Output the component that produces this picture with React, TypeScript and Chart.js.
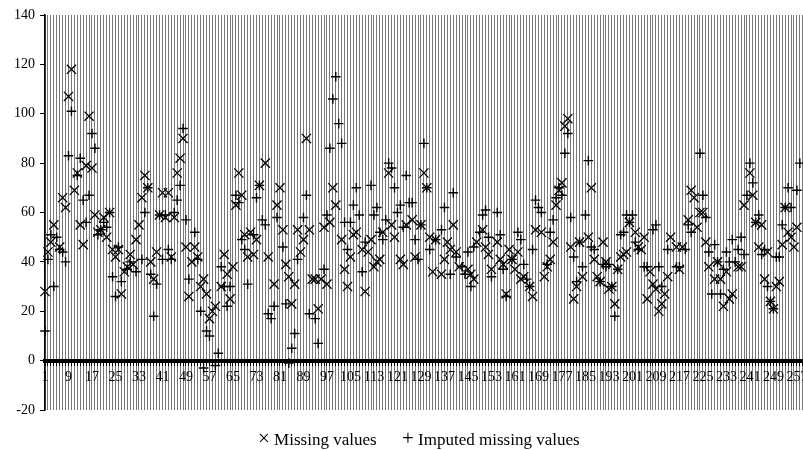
import React, { useEffect, useRef } from 'react';
import { Chart, registerables } from 'chart.js';

Chart.register(...registerables);

// Observation numbers along the x axis (the plot runs past the visible edge).
const CATEGORY_COUNT = 268;
const categories: string[] = Array.from({ length: CATEGORY_COUNT }, (_, i) => String(i + 1));

// Every 8th observation gets a printed label.
const LABEL_EVERY = 8;

const Y_MIN = -20;
const Y_MAX = 140;
const Y_STEP = 20;

// Values that were removed from the series (× markers), one slot per observation.
const missingValues: (number | null)[] = [
  28, 44, 48, 55, null, 46, 66, 62, 107, 118,
  69, 76, 55, 47, 79, 99, 78, 59, 52, 53,
  58, 50, 60, 45, 42, 45, 27, 36, 38, 43,
  39, 49, 55, 66, 75, 70, 40, 33, 44, 59,
  68, 58, 68, 42, 58, 76, 82, 90, 46, 26,
  40, 46, 42, 30, 33, 27, 17, 20, 22, null,
  30, 43, 35, 25, 38, 63, 76, 67, 51, 42,
  52, 43, 49, 71, null, 80, 42, null, 31, 63,
  70, 53, 39, 34, 23, 31, 53, 44, 49, 90,
  53, 33, 33, 21, 33, 54, 31, 56, 70, 63,
  null, 49, 37, 30, 42, 51, 52, null, 45, 28,
  44, 49, 38, 40, 41, 52, null, 76, 55, 50,
  null, 41, 39, 55, null, 57, 42, null, 55, 76,
  70, 50, 36, 49, null, 35, 41, 48, 45, 55,
  44, 38, null, null, 37, 35, 33, 48, null, 53,
  46, 43, 37, null, 48, 41, 39, 27, 45, 41,
  37, 44, 33, 34, null, 30, 26, 53, null, 52,
  34, 38, 41, 48, 63, 69, 72, 95, 98, 46,
  25, 30, 48, 34, null, 50, 70, 41, 34, 32,
  48, 40, 29, 30, 23, 37, 42, 43, 44, 56,
  null, 52, 46, 45, 50, 25, 36, 31, 29, 20,
  23, 27, 34, 50, null, 46, 37, 46, null, 57,
  69, 66, 54, 60, 60, 48, 38, null, 33, 40,
  33, 22, 36, 25, 27, null, 38, 38, 63, null,
  76, 67, 56, 46, 55, 33, 44, 24, 21, 30,
  32, 47, 62, 52, 50, 46, 54,
];

// Values filled in by the imputation (+ markers), one slot per observation.
const imputedValues: (number | null)[] = [
  12, 41, 51, 30, 50, 45, 44, 40, 83, 101,
  null, 75, 82, 65, 56, 67, 92, 86, 51, 53,
  56, 54, 60, 34, 26, 46, 32, null, 37, 40,
  null, 36, null, 41, 60, 70, 35, 18, 31, 59,
  41, 59, 45, 41, 60, 65, 71, 94, 57, 33,
  null, 52, 41, 20, -3, 12, 10, null, -2, 3,
  38, 30, 22, 30, null, 67, 64, 49, 45, 31,
  null, 51, 66, 71, 57, 55, 19, 17, 22, 58,
  null, 46, 23, -1, 5, 11, 41, null, 58, 67,
  19, null, 17, 7, null, 37, 59, 86, 106, 115,
  96, 88, 56, 45, 56, 63, 70, 59, 36, 48,
  null, 71, 59, 62, 52, 49, 57, 80, 78, 70,
  60, 63, 54, 75, 64, 64, 49, 41, 55, 88,
  70, 45, null, 49, null, 53, 62, null, 35, 68,
  42, null, 38, 35, 44, 30, 46, null, 52, 59,
  61, 50, 34, null, 60, 51, 37, 26, null, 41,
  null, 52, 49, 39, 33, 30, 45, 65, 62, 60,
  null, 39, 52, 57, 66, 70, 67, 84, 92, 58,
  42, 32, 48, 38, 59, 81, 46, 45, null, 32,
  39, 38, 39, 30, 18, 37, 51, 52, 59, 56,
  59, 48, 45, null, 38, 38, null, 53, 55, 38,
  30, null, 45, null, null, 38, 38, null, 45, 55,
  52, null, null, 84, 67, 58, 44, 27, 47, 40,
  27, 37, 44, 40, 49, 40, 45, 50, 43, 67,
  80, 72, 56, 59, 43, 45, 30, 24, 21, 42,
  42, 55, 62, 70, 62, null, 69, 80,
];

const SERIF = '"Liberation Serif", "Times New Roman", Times, serif';

export default function App() {
  const canvasRef = useRef<HTMLCanvasElement>(null);

  useEffect(() => {
    const canvas = canvasRef.current;
    if (!canvas) return;

    const chart = new Chart(canvas, {
      type: 'line',
      data: {
        labels: categories,
        datasets: [
          {
            label: 'Missing values',
            data: missingValues,
            showLine: false,
            pointStyle: 'crossRot',
            pointRadius: 6.5,
            pointHoverRadius: 6.5,
            pointBorderWidth: 1.3,
            pointBorderColor: '#000',
            pointBackgroundColor: '#000',
            borderColor: '#000',
            clip: false,
          },
          {
            label: 'Imputed missing values',
            data: imputedValues,
            showLine: false,
            pointStyle: 'cross',
            pointRadius: 4.8,
            pointHoverRadius: 4.8,
            pointBorderWidth: 1.4,
            pointBorderColor: '#000',
            pointBackgroundColor: '#000',
            borderColor: '#000',
            clip: false,
          },
        ],
      },
      options: {
        responsive: false,
        animation: false,
        events: [],
        layout: { padding: { top: 15, bottom: 40, left: 0, right: 6 } },
        plugins: {
          legend: { display: false },
          tooltip: { enabled: false },
        },
        scales: {
          x: {
            position: { y: 0 },
            offset: false,
            grid: {
              color: '#777',
              lineWidth: 1,
              tickLength: 3,
              tickColor: '#000',
              tickWidth: 1,
            },
            border: { color: '#000', width: 4 },
            ticks: {
              autoSkip: false,
              maxRotation: 0,
              minRotation: 0,
              padding: 5,
              color: '#000',
              font: { family: SERIF, size: 14 },
              callback: (_v: any, i: number) => (i % LABEL_EVERY === 0 ? categories[i] : ''),
            },
            afterFit: (scale: any) => {
              scale.height = 0;
            },
          },
          y: {
            min: Y_MIN,
            max: Y_MAX,
            ticks: {
              stepSize: Y_STEP,
              color: '#000',
              padding: 5,
              font: { family: SERIF, size: 14 },
            },
            grid: {
              drawOnChartArea: false,
              tickLength: 5,
              color: '#000',
              tickColor: '#000',
            },
            border: { color: '#000', width: 1.5 },
            afterFit: (scale: any) => {
              scale.width = 45;
            },
          },
        },
      },
    });

    return () => chart.destroy();
  }, []);

  const legendStyle: React.CSSProperties = {
    position: 'absolute',
    top: 428,
    fontFamily: SERIF,
    fontSize: 17,
    color: '#000',
    whiteSpace: 'nowrap',
    lineHeight: '20px',
  };
  const symbolStyle: React.CSSProperties = { fontSize: 21, lineHeight: '20px' };

  return (
    <div
      style={{
        position: 'fixed',
        left: 0,
        top: 0,
        width: 803,
        height: 450,
        overflow: 'hidden',
        background: '#fff',
      }}
    >
      <canvas ref={canvasRef} width={837} height={450} style={{ display: 'block' }} />
      <div style={{ ...legendStyle, left: 258 }}>
        <span style={symbolStyle}>×</span> Missing values
      </div>
      <div style={{ ...legendStyle, left: 402 }}>
        <span style={symbolStyle}>+</span> Imputed missing values
      </div>
    </div>
  );
}
